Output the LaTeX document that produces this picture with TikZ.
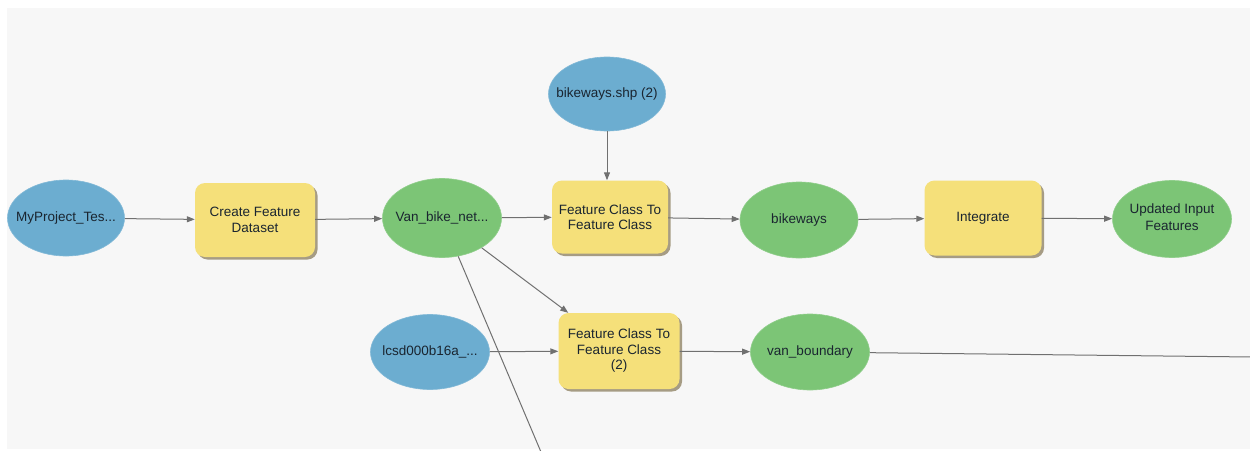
\documentclass[tikz,border=0pt]{standalone}
\usepackage{fontspec}
\setmainfont{Liberation Sans}
\usetikzlibrary{shapes.geometric,arrows.meta,shadows}
\definecolor{bgcol}{HTML}{F7F7F7}
\definecolor{bluecol}{HTML}{6CADD0}
\definecolor{greencol}{HTML}{7CC576}
\definecolor{yellowcol}{HTML}{F5E07A}
\definecolor{shadowcol}{HTML}{9E9378}
\definecolor{txtcol}{HTML}{1A2530}
\definecolor{linecol}{HTML}{707070}
\tikzset{
  base/.style={inner sep=0pt, text=txtcol, font=\fontsize{13.5}{15.5}\selectfont, align=center},
  dataell/.style={base, ellipse, fill=bluecol, draw=bluecol!85!white, line width=0.6pt},
  derivell/.style={base, ellipse, fill=greencol, draw=greencol!85!white, line width=0.6pt},
  toolbox/.style={base, rectangle, rounded corners=10pt, fill=yellowcol,
    drop shadow={shadow xshift=2.5pt, shadow yshift=-2.5pt, fill=shadowcol, opacity=0.9}},
  conn/.style={draw=linecol, line width=1pt, -{Triangle[length=8pt,width=6pt]}},
  plain/.style={draw=linecol, line width=1pt},
}
\newcommand{\zw}[1]{\makebox[0pt]{#1}}
\begin{document}
\begin{tikzpicture}[x=1pt,y=-1pt]
\useasboundingbox (0,0) rectangle (1250,450);
\fill[white] (0,0) rectangle (1250,450);
\fill[bgcol] (7,8) rectangle (1250,449);

\node[dataell, minimum width=117pt, minimum height=76pt] (mp) at (66,218) {\zw{MyProject\_Tes...}};
\node[toolbox, minimum width=120pt, minimum height=74pt] (cfd) at (255,220) {Create Feature\\Dataset};
\node[derivell, minimum width=119pt, minimum height=79pt] (vb) at (442,218) {\zw{Van\_bike\_net...}};
\node[dataell, minimum width=117pt, minimum height=74pt] (bs) at (607,94) {\zw{bikeways.shp (2)}};
\node[toolbox, minimum width=116pt, minimum height=73pt] (fc) at (610,217) {Feature Class To\\Feature Class};
\node[derivell, minimum width=118pt, minimum height=76pt] (bw) at (799,220) {\zw{bikeways}};
\node[toolbox, minimum width=117pt, minimum height=75pt] (ig) at (983,218) {Integrate};
\node[derivell, minimum width=119pt, minimum height=77pt] (up) at (1172,219) {\zw{\begin{tabular}{@{}c@{}}Updated Input\\[2pt]Features\end{tabular}}};
\node[dataell, minimum width=119pt, minimum height=75pt] (lc) at (430,352) {\zw{lcsd000b16a\_...}};
\node[toolbox, minimum width=121pt, minimum height=76pt] (fc2) at (619,351) {Feature Class To\\Feature Class\\(2)};
\node[derivell, minimum width=119pt, minimum height=76pt] (vbd) at (810,352) {\zw{van\_boundary}};

\coordinate (offr) at (1252,357);
\coordinate (offb) at (541,452);

\draw[conn] (mp) -- (cfd);
\draw[conn] (cfd) -- (vb);
\draw[conn] (vb) -- (fc);
\draw[conn] (bs) -- (bs |- fc.north);
\draw[conn] (fc) -- (bw);
\draw[conn] (bw) -- (ig);
\draw[conn] (ig) -- (up);
\draw[conn] (vb) -- (fc2);
\draw[conn] (lc) -- (fc2);
\draw[conn] (fc2) -- (vbd);
\draw[plain] (vbd) -- (offr);
\draw[plain] (vb) -- (offb);
\end{tikzpicture}
\end{document}
